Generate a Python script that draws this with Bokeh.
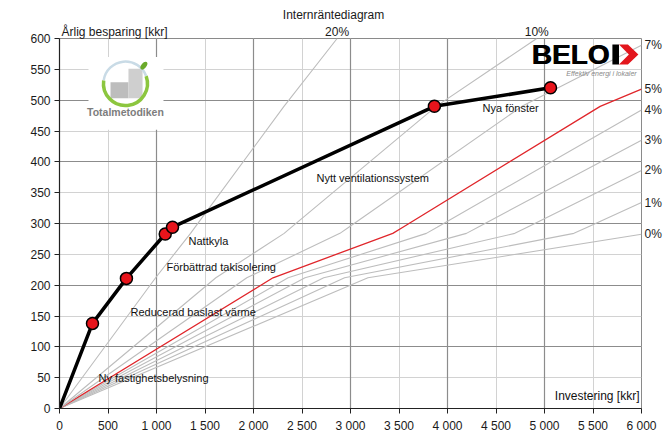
from bokeh.plotting import figure
from bokeh.models import Range1d, FixedTicker, Grid, Label, LinearAxis
from bokeh.embed import file_html
from bokeh.resources import INLINE

# ---------------- data ----------------
measures = ["Ny fastighetsbelysning", "Reducerad baslast värme", "Förbättrad takisolering",
            "Nattkyla", "Nytt ventilationssystem", "Nya fönster"]
cum_investment = [340, 690, 1090, 1165, 3865, 5062]   # kkr
cum_saving = [138, 211, 283, 294, 490, 520]           # kkr/year

irr_names = ["0%", "1%", "2%", "3%", "4%", "5%", "7%", "10%", "20%"]
irr_x = [
    [0, 3180, 6000],
    [0, 2939, 5303, 5442, 6000],
    [0, 2724, 4694, 4822, 6000],
    [0, 2531, 4195, 4314, 6000],
    [0, 2357, 3782, 3893, 6000],
    [0, 2201, 3436, 3540, 5574, 6000],
    [0, 1931, 2891, 2982, 4767, 6000],
    [0, 1612, 2316, 2392, 3883, 4920],
    [0, 991, 1351, 1398, 2314, 2862],
]
irr_y = [
    [0, 212, 282.5],
    [0, 212, 284, 294, 334],
    [0, 212, 284, 294, 386],
    [0, 212, 284, 294, 435],
    [0, 212, 284, 294, 484],
    [0, 212, 284, 294, 490, 518],
    [0, 212, 284, 294, 490, 589],
    [0, 212, 284, 294, 490, 600],
    [0, 212, 284, 294, 490, 600],
]
highlight_rate = "5%"

x_ticks = [0, 500, 1000, 1500, 2000, 2500, 3000, 3500, 4000, 4500, 5000, 5500, 6000]
x_tick_labels = ["0", "500", "1 000", "1 500", "2 000", "2 500", "3 000", "3 500",
                 "4 000", "4 500", "5 000", "5 500", "6 000"]
y_ticks = [0, 50, 100, 150, 200, 250, 300, 350, 400, 450, 500, 550, 600]

y_title = "Årlig besparing [kkr]"
x_title = "Investering [kkr]"
top_title = "Internräntediagram"

# label anchor positions (layout)
measure_label_pos = [(402, 50), (732, 157), (1103, 229), (1330, 271), (2649, 373), (4361, 488)]
y_title_anchor_x = 567
top_title_anchor_x = 2825

FONT = "Liberation Sans"

p = figure(frame_width=582, frame_height=370,
           x_range=Range1d(0, 6000), y_range=Range1d(0, 600),
           output_backend="svg", toolbar_location=None,
           min_border_left=59, min_border_right=28, min_border_top=38, min_border_bottom=38,
           background_fill_color="white", border_fill_color="white")
p.outline_line_color = "#8a8a8a"

# axes
p.xaxis.ticker = FixedTicker(ticks=x_ticks)
p.xaxis.major_label_overrides = {t: l for t, l in zip(x_ticks, x_tick_labels)}
p.yaxis.ticker = FixedTicker(ticks=y_ticks)
for ax in (p.xaxis[0], p.yaxis[0]):
    ax.axis_line_color = "#222222"
    ax.axis_line_width = 1.2
    ax.major_tick_line_color = "#222222"
    ax.major_tick_out = 5
    ax.major_tick_in = 0
    ax.minor_tick_line_color = None
    ax.major_label_text_font = FONT
    ax.major_label_text_font_size = "12px"
    ax.major_label_text_color = "#1a1a1a"
p.xaxis.major_label_standoff = 5
p.yaxis.major_label_standoff = 4


def text_axis(ticks, labels, standoff):
    return LinearAxis(ticker=FixedTicker(ticks=ticks),
                      major_label_overrides={v: n for v, n in zip(ticks, labels)},
                      axis_line_color=None, major_tick_line_color=None,
                      major_tick_out=0, major_tick_in=0,
                      minor_tick_line_color=None, minor_tick_out=0, minor_tick_in=0,
                      major_label_standoff=standoff,
                      major_label_text_font=FONT, major_label_text_font_size="12px",
                      major_label_text_color="#1a1a1a")


# right axis: rate labels at the end of each IRR line
right_vals = [ys[-1] for ys in irr_y if ys[-1] < 600]
right_names = [n for n, ys in zip(irr_names, irr_y) if ys[-1] < 600]
p.add_layout(text_axis(right_vals, right_names, 3), "right")

# top axis: rate labels where steep lines leave the top + y-axis title
top_vals = [xs[-1] for xs, ys in zip(irr_x, irr_y) if ys[-1] >= 600]
top_names = [n for n, ys in zip(irr_names, irr_y) if ys[-1] >= 600]
p.add_layout(text_axis([y_title_anchor_x] + top_vals, [y_title] + top_names, 0), "above")
# outer top row: diagram title
p.add_layout(text_axis([top_title_anchor_x], [top_title], 0), "above")

# grids: light every 500/50, dark every 1000/100
p.xgrid.grid_line_color = "#d2d2d2"
p.ygrid.grid_line_color = "#d2d2d2"
p.add_layout(Grid(dimension=0, ticker=FixedTicker(ticks=x_ticks[::2]),
                  grid_line_color="#8c8c8c", grid_line_width=1.2))
p.add_layout(Grid(dimension=1, ticker=FixedTicker(ticks=y_ticks[::2]),
                  grid_line_color="#8c8c8c", grid_line_width=1.2))

# ---------- Totalmetodiken logo (decoration) ----------
p.quad(left=[299], right=[1072], bottom=[452], top=[570], fill_color="white", line_color=None)
p.quad(left=[526], right=[711], bottom=[503], top=[529], fill_color="#bdbdbd", line_color=None)
p.quad(left=[711], right=[856], bottom=[503], top=[551], fill_color="#cfcfcf", line_color=None)
p.arc(x=[680], y=[527], radius=22, radius_units="screen", start_angle=0.35, end_angle=3.0,
      line_color="#c9dbe6", line_width=2.5)
p.arc(x=[680], y=[527], radius=22, radius_units="screen", start_angle=3.0, end_angle=6.63,
      line_color="#8cc63f", line_width=3.5)
p.ellipse(x=[870], y=[556], width=9, height=5, width_units="screen", height_units="screen",
          angle=0.9, fill_color="#6aaa2a", line_color=None)
p.add_layout(Label(x=680, y=481, text="Totalmetodiken", text_align="center",
                   text_baseline="middle", text_font=FONT, text_font_size="10.5px",
                   text_font_style="bold", text_color="#7d7d7d"))

# ---------- IRR lines ----------
for name, xs, ys in zip(irr_names, irr_x, irr_y):
    if name == highlight_rate:
        p.line(xs, ys, line_color="#e0262b", line_width=1.3)
    else:
        p.line(xs, ys, line_color="#bdbdbd", line_width=1.1)

# ---------- BELOK logo (decoration) ----------
for dx in (0, 0.7):
    p.add_layout(Label(x=4866, y=595, text="BELO", text_align="left", x_offset=dx,
                       text_baseline="top", y_offset=2.3, text_font=FONT, text_font_size="28px",
                       text_font_style="bold", text_color="black"))
p.quad(left=[5700], right=[5768], bottom=[557.8], top=[590.3], fill_color="black", line_color=None)
p.patch([5768, 5860, 5968, 5860, 5768, 5870], [590.3, 590.3, 574.0, 557.8, 557.8, 574.0],
        fill_color="#e3161d", line_color=None)
p.add_layout(Label(x=5950, y=543, text="Effektiv energi i lokaler", text_align="right",
                   text_baseline="middle", text_font=FONT, text_font_size="7px",
                   text_font_style="italic", text_color="#8a8a8a"))

# ---------- measures curve ----------
p.line([0] + cum_investment, [0] + cum_saving, line_color="black", line_width=3.5)
p.scatter(cum_investment, cum_saving, size=12, fill_color="#e8141b",
          line_color="black", line_width=1.5)

for name, (lx, ly) in zip(measures, measure_label_pos):
    p.add_layout(Label(x=lx, y=ly, text=name, text_align="left", text_baseline="middle",
                       text_font=FONT, text_font_size="11px", text_color="#111111"))

p.add_layout(Label(x=6000, y=0, text=x_title, text_align="right",
                   text_baseline="middle", x_offset=-2, y_offset=13, text_font=FONT,
                   text_font_size="12px", text_color="#111111"))

open("out.html", "w").write(file_html(p, INLINE))
